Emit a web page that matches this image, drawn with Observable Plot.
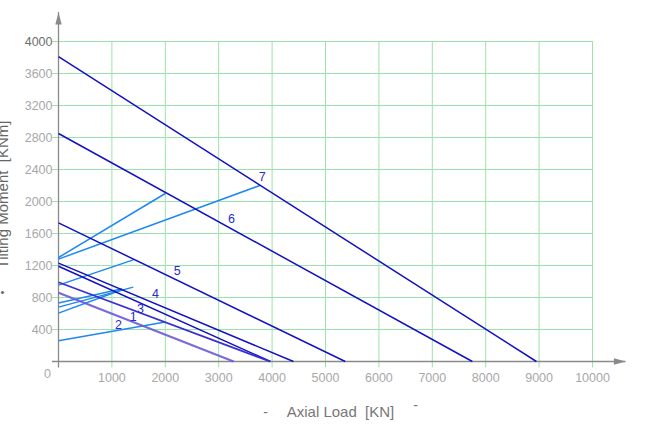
<!DOCTYPE html>
<html>
<head>
<meta charset="utf-8">
<script src="https://cdn.jsdelivr.net/npm/d3@7"></script>
<script src="https://cdn.jsdelivr.net/npm/@observablehq/plot@0.6"></script>
<style>
  html, body { margin: 0; padding: 0; background: #fff; }
</style>
</head>
<body>
<div id="chart"></div>
<script>
// Capacity curves (dark): straight lines from (0, moment) to (load, 0)
const curveIds = ["7", "6", "5", "4", "3", "1", "2"];
const curveMomentAt0 = [3810, 2850, 1733, 1230, 1190, 990, 860];
const curveLoadAt0 = [8950, 7750, 5370, 4400, 3970, 3960, 3280];

// Load lines (light blue): from (0, startMoment) to (endLoad, endMoment)
const loadStartMoment = [1300, 1280, 955, 730, 680, 605, 260];
const loadEndLoad = [2000, 3770, 1400, 1190, 1400, 1200, 2000];
const loadEndMoment = [2100, 2200, 1270, 910, 930, 900, 495];

// Curve number labels
const labelText = ["7", "6", "5", "4", "3", "1", "2"];
const labelLoad = [3815, 3240, 2222, 1816, 1536, 1398, 1124];
const labelMoment = [2304, 1784, 1129, 846, 658, 562, 462];

// Ticks
const xTicks = [1000, 2000, 3000, 4000, 5000, 6000, 7000, 8000, 9000, 10000];
const yTicks = [400, 800, 1200, 1600, 2000, 2400, 2800, 3200, 3600, 4000];

const xTitle = "Axial Load  [KN]";
const yTitle = "Tilting Moment  [KNm]";

const xMax = 10000, yMax = 4000;
const axisColor = "#8a8a8a";

const arrowHead = {
  draw(ctx) {
    ctx.moveTo(0, 0);
    ctx.lineTo(3.2, 12);
    ctx.lineTo(-3.2, 12);
    ctx.closePath();
  }
};

const chart = Plot.plot({
  width: 671,
  height: 436,
  marginLeft: 58,
  marginRight: 79,
  marginTop: 41,
  marginBottom: 75,
  x: {domain: [0, xMax], axis: null},
  y: {domain: [0, yMax], axis: null},
  style: {fontFamily: "'Liberation Sans', Arial, sans-serif", background: "white"},
  marks: [
    // grid (extends slightly past axes as tick marks)
    Plot.ruleY(yTicks, {x1: -xMax * 0.0112, x2: xMax, stroke: "#9ee2ab", strokeWidth: 1}),
    Plot.ruleX(xTicks, {y1: -yMax * 0.02, y2: yMax, stroke: "#9ee2ab", strokeWidth: 1}),
    // axes with arrows
    Plot.ruleX([0], {y1: -yMax * 0.02, y2: yMax * 1.0905, stroke: axisColor, strokeWidth: 1.3}),
    Plot.ruleY([0], {x1: -xMax * 0.0112, x2: xMax * 1.0625, stroke: axisColor, strokeWidth: 1.3}),
    Plot.dot([0], {x: 0, y: yMax * 1.0905, symbol: arrowHead, fill: axisColor, stroke: "none"}),
    Plot.dot([0], {x: xMax * 1.0625, y: 0, symbol: arrowHead, rotate: 90, fill: axisColor, stroke: "none"}),
    // tick labels
    Plot.text(yTicks, {x: 0, y: d => d, text: d => String(d), textAnchor: "end", dx: -6, fontSize: 12.5,
      fill: d => d === yMax ? "#6e6e6e" : "#a8a8a8"}),
    Plot.text(xTicks, {x: d => d, y: 0, text: d => String(d), dy: 16, fontSize: 12.5, fill: "#a8a8a8"}),
    Plot.text(["0"], {x: 0, y: 0, dx: -11, dy: 12, fontSize: 12.5, fill: "#a8a8a8"}),
    // load lines
    Plot.link(loadStartMoment, {
      x1: 0, y1: d => d,
      x2: (d, i) => loadEndLoad[i], y2: (d, i) => loadEndMoment[i],
      stroke: "#1e88f0", strokeWidth: 1.5
    }),
    // capacity curves
    Plot.link(curveIds, {
      filter: (d, i) => i < 5,
      x1: 0, y1: (d, i) => curveMomentAt0[i],
      x2: (d, i) => curveLoadAt0[i], y2: 0,
      stroke: "#1212c2", strokeWidth: 1.5
    }),
    Plot.link(curveIds, {
      filter: (d, i) => i === 5,
      x1: 0, y1: (d, i) => curveMomentAt0[i],
      x2: (d, i) => curveLoadAt0[i], y2: 0,
      stroke: "#3a30d2", strokeWidth: 1.7
    }),
    Plot.link(curveIds, {
      filter: (d, i) => i === 6,
      x1: 0, y1: (d, i) => curveMomentAt0[i],
      x2: (d, i) => curveLoadAt0[i], y2: 0,
      stroke: "#6a5ad8", strokeWidth: 2.2, strokeOpacity: 0.9
    }),
    // curve labels
    Plot.text(labelText, {x: (d, i) => labelLoad[i], y: (d, i) => labelMoment[i], text: d => d,
      fontSize: 12.5, fill: "#2a2ad0"}),
    // axis titles
    Plot.text([xTitle], {frameAnchor: "bottom", textAnchor: "middle", lineAnchor: "middle", dx: 15, dy: 51, fontSize: 15, fill: "#777"}),
    Plot.text(["-"], {frameAnchor: "bottom", textAnchor: "middle", lineAnchor: "middle", dx: -60, dy: 51, fontSize: 14, fill: "#777"}),
    Plot.text(["-"], {frameAnchor: "bottom", textAnchor: "middle", lineAnchor: "middle", dx: 90, dy: 44, fontSize: 14, fill: "#777"}),
    Plot.text([yTitle], {frameAnchor: "left", textAnchor: "middle", lineAnchor: "middle", dx: -55, dy: -7, rotate: -90, fontSize: 15, fill: "#666"}),
    Plot.text(["•"], {frameAnchor: "left", textAnchor: "middle", lineAnchor: "middle", dx: -56, dy: 91, fontSize: 11, fill: "#666"})
  ]
});

document.getElementById("chart").appendChild(chart);
</script>
</body>
</html>
